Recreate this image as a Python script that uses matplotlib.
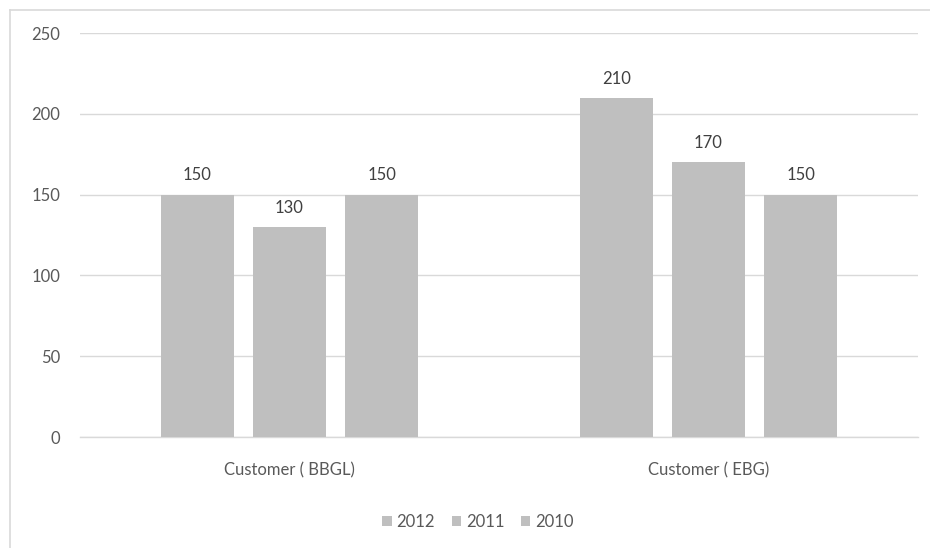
import matplotlib.pyplot as plt
import numpy as np
from matplotlib.lines import Line2D

plt.rcParams['font.family'] = ['Lato', 'DejaVu Sans']

# Datos del grafico
categories = ["Customer ( BBGL)", "Customer ( EBG)"]
years = ["2012", "2011", "2010"]
vals_2012 = [150, 210]
vals_2011 = [130, 170]
vals_2010 = [150, 150]
series = [vals_2012, vals_2011, vals_2010]

bar_color = '#BFBFBF'
grid_color = '#D9D9D9'
text_color = '#595959'
fs = 12

fig = plt.figure(figsize=(9.3, 5.48), dpi=100)
ax = fig.add_axes([80 / 930, 1 - 437 / 548, 838 / 930, 404 / 548])

x = np.arange(len(categories))
offsets = [-0.22, 0.0, 0.22]
width = 0.174

for vals, off, yr in zip(series, offsets, years):
    bars = ax.bar(x + off, vals, width, color=bar_color, label=yr, zorder=3)
    for b, v in zip(bars, vals):
        ax.annotate(str(v), (b.get_x() + b.get_width() / 2, v),
                    xytext=(0, 8), textcoords='offset points',
                    ha='center', va='bottom', fontsize=fs, color='#404040')

ax.set_xlim(-0.5, 1.5)
ax.set_ylim(0, 250)
ax.set_yticks([0, 50, 100, 150, 200, 250])
ax.set_xticks(x)
ax.set_xticklabels(categories)
ax.yaxis.grid(True, color=grid_color, linewidth=1, zorder=0)
ax.tick_params(axis='both', length=0, labelsize=fs, labelcolor=text_color)
ax.tick_params(axis='y', pad=14)
ax.tick_params(axis='x', pad=18)
for s in ['top', 'right', 'left']:
    ax.spines[s].set_visible(False)
ax.spines['bottom'].set_color(grid_color)
ax.spines['bottom'].set_linewidth(1)

# Leyenda
leg = ax.legend(loc='center', bbox_to_anchor=(478 / 930, 1 - 522 / 548),
                bbox_transform=fig.transFigure, ncol=3, frameon=False,
                fontsize=fs, handlelength=0.55, handleheight=0.55,
                handletextpad=0.3, columnspacing=1.0)
for t in leg.get_texts():
    t.set_color(text_color)

# Borde del area del grafico
fig.add_artist(Line2D([9.5 / 930, 9.5 / 930], [0, 1 - 10 / 548],
                      transform=fig.transFigure, color=grid_color, linewidth=1.2))
fig.add_artist(Line2D([9.5 / 930, 1], [1 - 10 / 548, 1 - 10 / 548],
                      transform=fig.transFigure, color=grid_color, linewidth=1.2))

fig.savefig('out.png', dpi=100)
